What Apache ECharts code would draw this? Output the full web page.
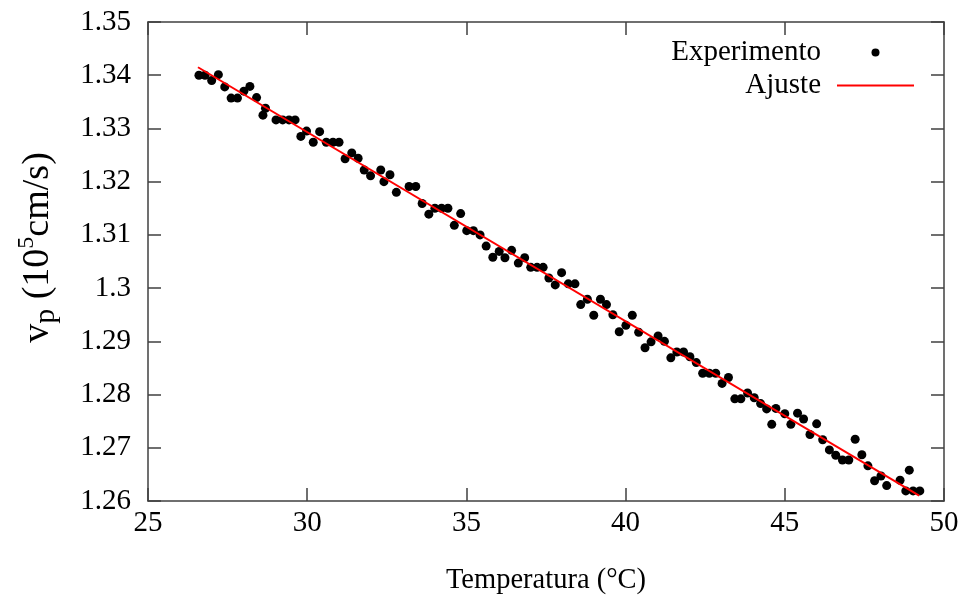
<!DOCTYPE html>
<html>
<head>
<meta charset="utf-8">
<script src="https://cdn.jsdelivr.net/npm/echarts@6/dist/echarts.min.js"></script>
<style>html,body{margin:0;padding:0;background:#fff}#c{width:969px;height:601px}</style>
</head>
<body>
<div id="c"></div>
<script>
// Temperature (°C) of each measurement
const tempX = [26.60, 26.79, 27.00, 27.21, 27.41, 27.61, 27.81, 28.01, 28.20, 28.41, 28.61, 28.69, 29.02, 29.23, 29.43, 29.62, 29.80, 29.98, 30.19, 30.39, 30.60, 30.81, 31.00, 31.19, 31.40, 31.60, 31.79, 31.99, 32.31, 32.41, 32.60, 32.80, 33.20, 33.41, 33.61, 33.82, 34.01, 34.22, 34.42, 34.62, 34.82, 35.01, 35.22, 35.43, 35.62, 35.83, 36.03, 36.21, 36.42, 36.63, 36.83, 37.02, 37.22, 37.41, 37.59, 37.79, 37.99, 38.20, 38.41, 38.59, 38.80, 39.00, 39.21, 39.40, 39.60, 39.80, 40.01, 40.21, 40.41, 40.61, 40.80, 41.02, 41.22, 41.42, 41.61, 41.82, 42.02, 42.22, 42.42, 42.63, 42.83, 43.03, 43.23, 43.43, 43.62, 43.83, 44.04, 44.24, 44.43, 44.59, 44.72, 45.00, 45.19, 45.40, 45.59, 45.79, 46.00, 46.19, 46.40, 46.60, 46.81, 47.01, 47.21, 47.42, 47.61, 47.82, 48.02, 48.20, 48.62, 48.80, 48.91, 49.03, 49.24];
// Measured v_p (10^5 cm/s)
const vpY = [1.3400, 1.3400, 1.3390, 1.3401, 1.3378, 1.3357, 1.3357, 1.3370, 1.3379, 1.3358, 1.3325, 1.3338, 1.3316, 1.3316, 1.3316, 1.3316, 1.3285, 1.3295, 1.3274, 1.3294, 1.3274, 1.3274, 1.3274, 1.3243, 1.3254, 1.3244, 1.3222, 1.3211, 1.3222, 1.3200, 1.3213, 1.3180, 1.3191, 1.3191, 1.3159, 1.3139, 1.3150, 1.3150, 1.3150, 1.3118, 1.3140, 1.3108, 1.3108, 1.3100, 1.3079, 1.3058, 1.3069, 1.3057, 1.3071, 1.3047, 1.3057, 1.3039, 1.3039, 1.3039, 1.3019, 1.3006, 1.3029, 1.3008, 1.3008, 1.2969, 1.2979, 1.2949, 1.2979, 1.2969, 1.2950, 1.2918, 1.2930, 1.2949, 1.2917, 1.2888, 1.2899, 1.2910, 1.2900, 1.2869, 1.2880, 1.2880, 1.2871, 1.2860, 1.2840, 1.2840, 1.2840, 1.2821, 1.2832, 1.2792, 1.2792, 1.2803, 1.2794, 1.2783, 1.2773, 1.2744, 1.2774, 1.2764, 1.2744, 1.2765, 1.2754, 1.2725, 1.2745, 1.2715, 1.2696, 1.2686, 1.2677, 1.2677, 1.2716, 1.2687, 1.2666, 1.2638, 1.2647, 1.2629, 1.2639, 1.2619, 1.2658, 1.2619, 1.2619];
// Linear fit endpoints
const fitX = [26.57, 49.22];
const fitY = [1.3415, 1.2610];
const seriesNames = ['Experimento', 'Ajuste'];
const xTitle = 'Temperatura (°C)';
const yTitle = '{m|v}{sub|p}{m| (10}{sup|5}{m|cm/s)}';

const FONT = 'Liberation Serif';
const AX = '#404040';
const chart = echarts.init(document.getElementById('c'), null, {renderer: 'canvas'});
const scatterData = tempX.map((x, i) => [x, vpY[i]]);
const fitData = fitX.map((x, i) => [x, fitY[i]]);
const lbl = {fontFamily: FONT, fontSize: 29, color: '#000'};
const axLine = {show: true, onZero: false, lineStyle: {color: AX, width: 1.5}};
const tick = {show: true, inside: true, length: 13, lineStyle: {color: AX, width: 1.5}};
const legText = {fontFamily: FONT, fontSize: 29, color: '#000', lineHeight: 28, padding: [0, 11, 0, 0]};

chart.setOption({
  animation: false,
  backgroundColor: '#fff',
  grid: {left: 148, right: 25, top: 22, bottom: 100, containLabel: false},
  legend: [
    {data: [{name: seriesNames[0], icon: 'circle'}], orient: 'vertical', align: 'right',
     right: 89.5, top: 38, padding: 0,
     itemWidth: 77, itemHeight: 8, itemStyle: {opacity: 1}, textStyle: legText},
    {data: [{name: seriesNames[1], icon: 'rect'}], orient: 'vertical', align: 'right',
     right: 55, top: 71, padding: 0,
     itemWidth: 77, itemHeight: 2, textStyle: legText}
  ],
  xAxis: [
    {type: 'value', min: 25, max: 50, interval: 5, position: 'bottom',
     axisLine: axLine, axisTick: tick, splitLine: {show: false},
     axisLabel: Object.assign({margin: 8}, lbl),
     name: xTitle, nameLocation: 'middle', nameGap: 65,
     nameTextStyle: {fontFamily: FONT, fontSize: 28.5, color: '#000'}},
    {type: 'value', min: 25, max: 50, interval: 5, position: 'top',
     axisLine: axLine, axisTick: tick, splitLine: {show: false}, axisLabel: {show: false}}
  ],
  yAxis: [
    {type: 'value', min: 1.26, max: 1.35, interval: 0.01, position: 'left',
     axisLine: axLine, axisTick: tick, splitLine: {show: false},
     axisLabel: Object.assign({margin: 17, formatter: v => String(+v.toFixed(2))}, lbl),
     name: yTitle, nameLocation: 'middle', nameGap: 87,
     nameTextStyle: {fontFamily: FONT, fontSize: 38, color: '#000', padding: [0, 0, 0, 28],
       rich: {
         m: {fontFamily: FONT, fontSize: 38, color: '#000', lineHeight: 46, verticalAlign: 'middle'},
         sub: {fontFamily: FONT, fontSize: 30, color: '#000', lineHeight: 30, verticalAlign: 'bottom'},
         sup: {fontFamily: FONT, fontSize: 24, color: '#000', lineHeight: 22, verticalAlign: 'top'}
       }}},
    {type: 'value', min: 1.26, max: 1.35, interval: 0.01, position: 'right',
     axisLine: axLine, axisTick: tick, splitLine: {show: false}, axisLabel: {show: false}}
  ],
  series: [
    {name: seriesNames[0], type: 'scatter', data: scatterData, symbol: 'circle', symbolSize: 9,
     itemStyle: {color: '#000', opacity: 1}, z: 2},
    {name: seriesNames[1], type: 'line', data: fitData, symbol: 'none', showSymbol: false,
     lineStyle: {color: '#ff0000', width: 2}, itemStyle: {color: '#ff0000'}, z: 3}
  ]
});
</script>
</body>
</html>
